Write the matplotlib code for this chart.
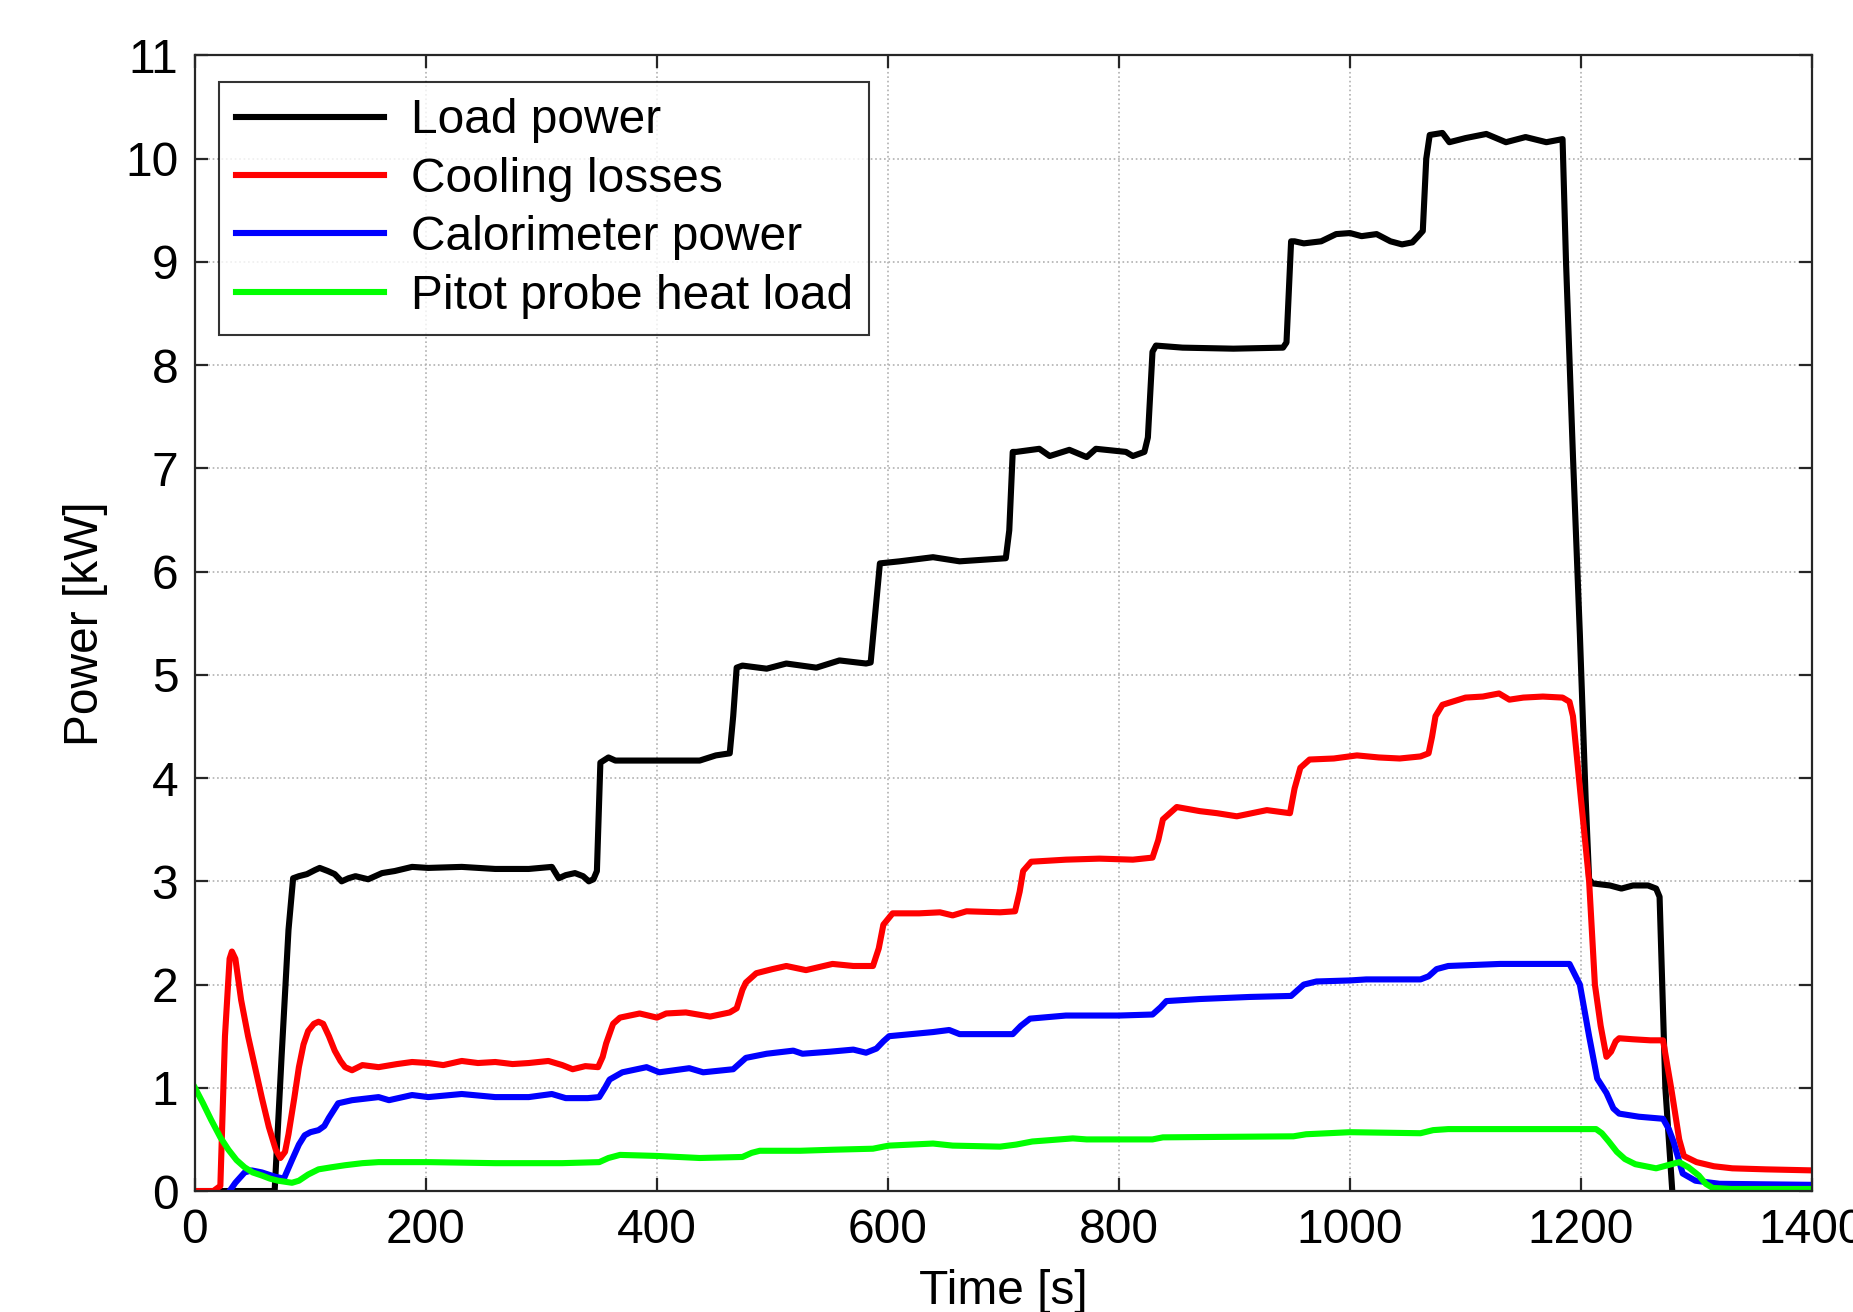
import matplotlib
matplotlib.use("Agg")
import matplotlib.pyplot as plt

plt.rcParams['font.family'] = ['Liberation Sans', 'DejaVu Sans']

# ---------------- data ----------------
load_t = [0, 69, 75, 81, 85, 90, 97, 104, 108, 115, 121, 127, 133, 139, 150, 162, 173, 188,
          202, 231, 260, 289, 309, 315, 321, 329, 336, 341, 345, 348, 351, 358, 364, 379, 400,
          437, 451, 463, 466, 469, 474, 495, 512, 538, 558, 581, 585, 589, 593, 610, 639, 662,
          702, 705, 708, 711, 731, 740, 757, 772, 780, 806, 812, 822, 825, 829, 832, 855, 899,
          942, 945, 949, 952, 960, 975, 988, 1000, 1010, 1023, 1035, 1045, 1054, 1059, 1063,
          1066, 1069, 1080, 1086, 1100, 1118, 1135, 1152, 1170, 1184, 1187, 1193, 1199, 1204,
          1207, 1210, 1225, 1235, 1245, 1258, 1265, 1268, 1273, 1279]
load_p = [0.0, 0.0, 1.3, 2.53, 3.03, 3.05, 3.07, 3.11, 3.13, 3.10, 3.07, 3.00, 3.03, 3.05, 3.02,
          3.08, 3.10, 3.14, 3.13, 3.14, 3.12, 3.12, 3.14, 3.03, 3.06, 3.08, 3.05, 3.00, 3.02,
          3.10, 4.15, 4.20, 4.17, 4.17, 4.17, 4.17, 4.22, 4.24, 4.60, 5.07, 5.09, 5.06, 5.11,
          5.07, 5.14, 5.11, 5.12, 5.60, 6.08, 6.10, 6.14, 6.10, 6.13, 6.40, 7.16, 7.16, 7.19,
          7.12, 7.18, 7.11, 7.19, 7.16, 7.12, 7.16, 7.30, 8.13, 8.19, 8.17, 8.16, 8.17, 8.22,
          9.20, 9.20, 9.18, 9.20, 9.27, 9.28, 9.25, 9.27, 9.20, 9.17, 9.19, 9.25, 9.30, 10.00,
          10.23, 10.25, 10.16, 10.20, 10.24, 10.16, 10.21, 10.16, 10.19, 9.00, 7.12, 5.39,
          3.80, 3.02, 2.98, 2.96, 2.93, 2.96, 2.96, 2.93, 2.85, 1.00, 0.0]

cool_t = [0, 16, 22, 26, 30, 32, 35, 40, 46, 52, 58, 64, 70, 74, 78, 81, 86, 90, 94, 98, 103,
          107, 111, 116, 121, 126, 130, 136, 145, 159, 175, 188, 202, 215, 231, 245, 260, 275,
          289, 306, 318, 327, 338, 349, 353, 356, 362, 368, 385, 400, 408, 425, 446, 463, 469,
          474, 477, 486, 500, 512, 529, 552, 570, 587, 592, 596, 604, 627, 645, 656, 668, 697,
          710, 714, 717, 724, 754, 783, 812, 829, 834, 838, 850, 870, 885, 902, 928, 948, 952,
          957, 965, 986, 1006, 1025, 1043, 1061, 1068, 1071, 1074, 1080, 1100, 1115, 1129,
          1138, 1150, 1167, 1184, 1190, 1193, 1200, 1207, 1212, 1217, 1222, 1226, 1230, 1233,
          1245, 1260, 1271, 1278, 1285, 1289, 1300, 1315, 1331, 1360, 1400]
cool_p = [0.0, 0.0, 0.05, 1.5, 2.25, 2.32, 2.25, 1.85, 1.5, 1.2, 0.9, 0.62, 0.40, 0.32, 0.38,
          0.55, 0.9, 1.2, 1.42, 1.55, 1.62, 1.64, 1.62, 1.5, 1.36, 1.26, 1.2, 1.17, 1.22, 1.2,
          1.23, 1.25, 1.24, 1.22, 1.26, 1.24, 1.25, 1.23, 1.24, 1.26, 1.22, 1.18, 1.21, 1.2,
          1.3, 1.43, 1.62, 1.68, 1.72, 1.68, 1.72, 1.73, 1.69, 1.73, 1.77, 1.95, 2.02, 2.11,
          2.15, 2.18, 2.14, 2.2, 2.18, 2.18, 2.35, 2.58, 2.69, 2.69, 2.7, 2.67, 2.71, 2.7, 2.71,
          2.9, 3.1, 3.19, 3.21, 3.22, 3.21, 3.23, 3.4, 3.6, 3.72, 3.68, 3.66, 3.63, 3.69, 3.66,
          3.9, 4.1, 4.18, 4.19, 4.22, 4.2, 4.19, 4.21, 4.24, 4.4, 4.6, 4.71, 4.78, 4.79, 4.82,
          4.76, 4.78, 4.79, 4.78, 4.74, 4.6, 3.79, 3.0, 2.0, 1.6, 1.3, 1.35, 1.45, 1.48, 1.47,
          1.46, 1.46, 1.0, 0.5, 0.34, 0.28, 0.24, 0.22, 0.21, 0.2]

calo_t = [30, 35, 43, 49, 58, 69, 77, 84, 90, 95, 100, 107, 112, 116, 124, 136, 159, 168, 188,
          202, 231, 260, 289, 309, 321, 340, 350, 355, 359, 370, 391, 402, 428, 440, 466, 472,
          477, 495, 518, 526, 550, 570, 581, 590, 596, 601, 639, 653, 662, 697, 708, 715, 723,
          754, 800, 829, 836, 841, 870, 913, 949, 955, 960, 971, 1000, 1014, 1061, 1068, 1075,
          1085, 1130, 1190, 1199, 1207, 1214, 1222, 1228, 1233, 1250, 1271, 1276, 1280, 1288,
          1299, 1320, 1400]
calo_p = [0.0, 0.08, 0.18, 0.2, 0.18, 0.14, 0.12, 0.3, 0.45, 0.54, 0.57, 0.59, 0.63, 0.71,
          0.85, 0.88, 0.91, 0.88, 0.93, 0.91, 0.94, 0.91, 0.91, 0.94, 0.9, 0.9, 0.91, 1.0, 1.08,
          1.15, 1.2, 1.15, 1.19, 1.15, 1.18, 1.24, 1.29, 1.33, 1.36, 1.33, 1.35, 1.37, 1.34,
          1.38, 1.45, 1.5, 1.54, 1.56, 1.52, 1.52, 1.52, 1.6, 1.67, 1.7, 1.7, 1.71, 1.78, 1.84,
          1.86, 1.88, 1.89, 1.95, 2.0, 2.03, 2.04, 2.05, 2.05, 2.08, 2.15, 2.18, 2.2, 2.2, 2.0,
          1.5, 1.09, 0.95, 0.8, 0.75, 0.72, 0.7, 0.6, 0.48, 0.17, 0.1, 0.07, 0.06]

pitot_t = [0, 7, 14, 22, 29, 36, 43, 50, 58, 65, 72, 78, 84, 90, 98, 107, 118, 130, 145, 159,
           202, 260, 318, 350, 358, 368, 400, 437, 474, 482, 489, 524, 552, 587, 596, 601, 639,
           656, 697, 711, 725, 760, 772, 829, 838, 951, 962, 1000, 1061, 1072, 1085, 1213, 1218,
           1224, 1231, 1238, 1247, 1256, 1265, 1275, 1285, 1293, 1302, 1308, 1314, 1330, 1400]
pitot_p = [1.0, 0.85, 0.69, 0.52, 0.4, 0.3, 0.23, 0.18, 0.15, 0.12, 0.1, 0.09, 0.08, 0.1, 0.16,
           0.21, 0.23, 0.25, 0.27, 0.28, 0.28, 0.27, 0.27, 0.28, 0.32, 0.35, 0.34, 0.32, 0.33,
           0.37, 0.39, 0.39, 0.4, 0.41, 0.43, 0.44, 0.46, 0.44, 0.43, 0.45, 0.48, 0.51, 0.5, 0.5,
           0.52, 0.53, 0.55, 0.57, 0.56, 0.59, 0.6, 0.6, 0.56, 0.48, 0.38, 0.31, 0.26, 0.24,
           0.22, 0.25, 0.28, 0.23, 0.15, 0.07, 0.03, 0.02, 0.02]

series_labels = ["Load power", "Cooling losses", "Calorimeter power", "Pitot probe heat load"]
x_ticks = [0, 200, 400, 600, 800, 1000, 1200, 1400]
y_ticks = list(range(0, 12))

# ---------------- figure ----------------
FS = 34.5
fig = plt.figure(figsize=(18.53, 13.12), dpi=100)
ax = fig.add_axes([0.1052, 0.0922, 0.9779 - 0.1052, 0.9577 - 0.0922])

lw = 4.4
ax.plot(load_t, load_p, color="#000000", lw=lw, label=series_labels[0])
ax.plot(cool_t, cool_p, color="#ff0000", lw=lw, label=series_labels[1])
ax.plot(calo_t, calo_p, color="#0000ff", lw=lw, label=series_labels[2])
ax.plot(pitot_t, pitot_p, color="#00ff00", lw=lw, label=series_labels[3])

ax.set_xlim(0, 1400)
ax.set_ylim(0, 11)
ax.set_xticks(x_ticks)
ax.set_yticks(y_ticks)

ax.grid(True, color="#b0b0b0", linestyle=":", linewidth=1.2)
ax.set_axisbelow(True)

ax.tick_params(axis="both", which="major", direction="in", length=9.5, width=1.6,
               top=True, right=True, labelsize=FS, color="#262626")
ax.tick_params(axis="x", pad=12)
ax.tick_params(axis="y", pad=12)
for s in ax.spines.values():
    s.set_linewidth(1.6)
    s.set_color("#262626")

ax.set_xlabel("Time [s]", fontsize=FS, labelpad=12)
ax.set_ylabel("Power [kW]", fontsize=FS, labelpad=12)

leg = ax.legend(loc="upper left", bbox_to_anchor=(0.0148, 0.9771), borderaxespad=0,
                fontsize=FS, frameon=True, fancybox=False, edgecolor="#000000",
                handlelength=3.1, handletextpad=0.55, labelspacing=0.28, borderpad=0.35)
leg.get_frame().set_linewidth(1.5)

fig.savefig("out.png", dpi=100)
